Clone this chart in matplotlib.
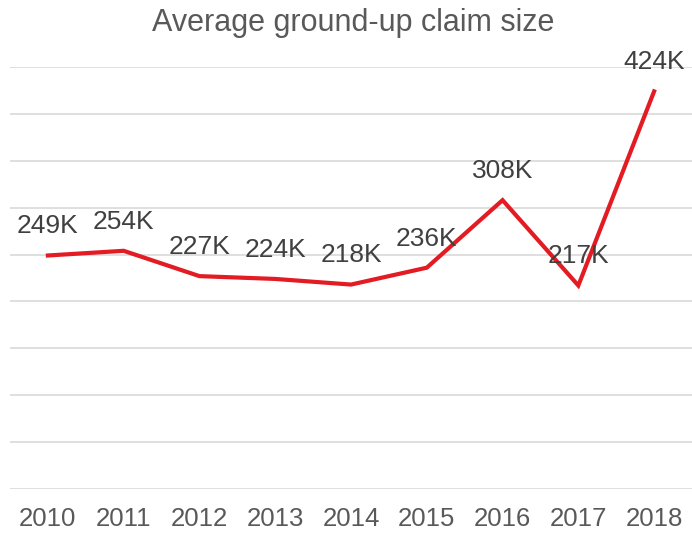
import matplotlib
matplotlib.use("Agg")
import matplotlib.pyplot as plt

years = ["2010", "2011", "2012", "2013", "2014", "2015", "2016", "2017", "2018"]
values = [249, 254, 227, 224, 218, 236, 308, 217, 424]  # thousands
labels = ["249K", "254K", "227K", "224K", "218K", "236K", "308K", "217K", "424K"]

plt.rcParams['font.family'] = ['Liberation Sans', 'DejaVu Sans']

fig = plt.figure(figsize=(6.92, 5.33), dpi=100)
ax = fig.add_axes([10/692, 44/533, 682/692, 422/533])

x = list(range(len(years)))
ax.plot(x, values, color='#E31B23', linewidth=3, solid_joinstyle='miter', zorder=3, clip_on=False)

for xi, v, lab in zip(x, values, labels):
    ax.annotate(lab, (xi, v), xytext=(0, 21), textcoords='offset points',
                ha='center', va='center', fontsize=19, color='#404040',
                annotation_clip=False, zorder=4)

ax.set_xlim(-0.5, len(years) - 0.5)
ax.set_ylim(0, 450)
ax.set_yticks(range(0, 451, 50))
ax.yaxis.grid(True, color='#D9D9D9', linewidth=1.2)
ax.set_axisbelow(True)
ax.set_yticklabels([])
ax.tick_params(axis='y', length=0)
ax.set_xticks(x)
ax.set_xticklabels(years, fontsize=18.5, color='#595959')
ax.tick_params(axis='x', length=0, pad=13)
for s in ax.spines.values():
    s.set_visible(False)

fig.text(353/692, 1 - 23/533, "Average ground-up claim size", ha='center', va='center',
         fontsize=22, color='#595959')

fig.savefig("out.png", dpi=100)
